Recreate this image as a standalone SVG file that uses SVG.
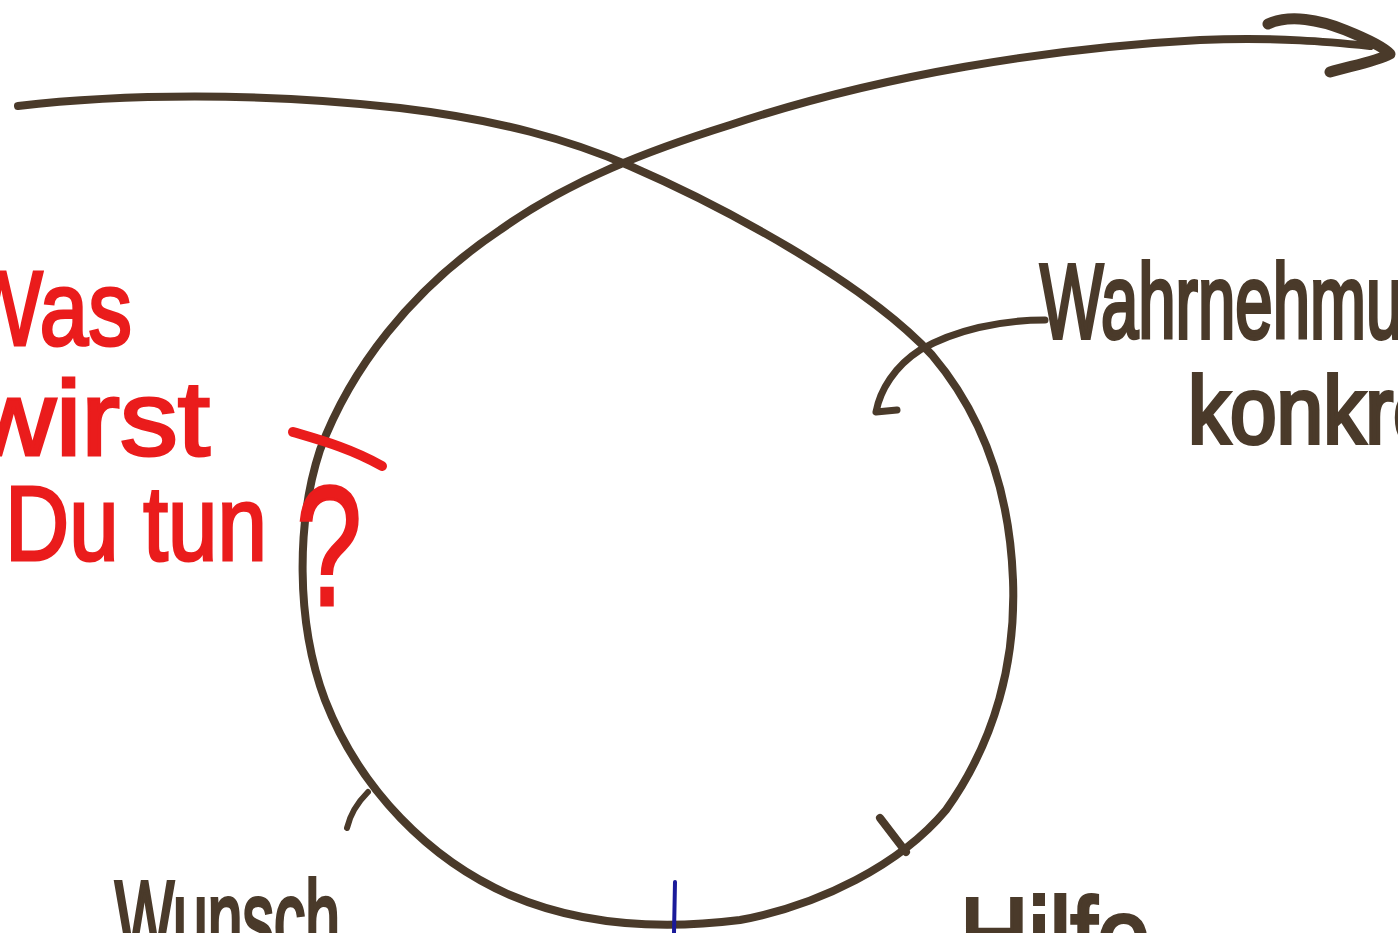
<svg xmlns="http://www.w3.org/2000/svg" width="1398" height="933" viewBox="0 0 1398 933">
<style>
.ink{fill:none;stroke:#4a3a2a;stroke-linecap:round;stroke-linejoin:round}
.red{fill:none;stroke:#ea1c1c;stroke-linecap:round;stroke-linejoin:round}
.hand{font-family:"Liberation Sans",Arial,sans-serif;fill:#4a3a2a;stroke:#4a3a2a;stroke-width:4}
.hr{font-family:"Liberation Sans",Arial,sans-serif;fill:#ea1c1c;stroke:#ea1c1c;stroke-width:3}
</style>
<rect width="1398" height="933" fill="#ffffff"/>
<g id="connectors">
  <path class="ink" stroke-width="8" d="M18,106 C120,94 260,92 400,108 C500,120 570,140 630,166 C720,205 865,282 932,355 C987,420 1010,500 1013,580 C1016,660 996,740 946,810 C900,865 820,905 740,920 C660,930 580,925 510,895 C430,860 360,790 325,700 C295,620 297,520 320,450 C350,370 410,290 500,230 C570,180 650,150 730,125 C880,75 1050,48 1200,40 C1280,37 1330,42 1370,46"/>
  <path class="ink" stroke-width="11" d="M1268,24 C1290,14 1320,20 1345,30 C1365,38 1385,48 1390,54 C1375,62 1350,66 1330,72"/>
  <path class="ink" stroke-width="7" d="M1045,320 C1000,320 955,330 920,350 C895,366 880,390 876,412 L897,410"/>
  <path class="ink" stroke-width="8" d="M880,818 L906,852"/>
  <path class="ink" stroke-width="6" d="M368,792 C358,802 350,815 347,828"/>
  <path fill="none" stroke="#1a1a9a" stroke-width="4" stroke-linecap="round" d="M675,882 L674,933"/>
  <path class="red" stroke-width="10" d="M293,432 C320,440 350,448 382,466"/>
</g>
<g id="label-was">
  <text class="hr" x="-40" y="345" font-size="105" textLength="172" lengthAdjust="spacingAndGlyphs">Was</text>
  <text class="hr" x="-28" y="455" font-size="105" textLength="238" lengthAdjust="spacingAndGlyphs">wirst</text>
  <text class="hr" y="560" font-size="105"><tspan x="5" textLength="262" lengthAdjust="spacingAndGlyphs">Du tun</tspan><tspan x="296" y="605" font-size="170" textLength="66" lengthAdjust="spacingAndGlyphs">?</tspan></text>
</g>
<g id="label-wahrnehmung">
  <text class="hand" x="1040" y="338" font-size="105" textLength="438" lengthAdjust="spacingAndGlyphs">Wahrnehmung</text>
  <text class="hand" x="1188" y="443" font-size="95" textLength="275" lengthAdjust="spacingAndGlyphs">konkret</text>
</g>
<g id="label-wunsch">
  <text class="hand" x="115" y="955" font-size="105" textLength="225" lengthAdjust="spacingAndGlyphs">Wunsch</text>
</g>
<g id="label-hilfe">
  <text class="hand" x="960" y="972" font-size="105" textLength="190" lengthAdjust="spacingAndGlyphs">Hilfe</text>
</g>
</svg>
